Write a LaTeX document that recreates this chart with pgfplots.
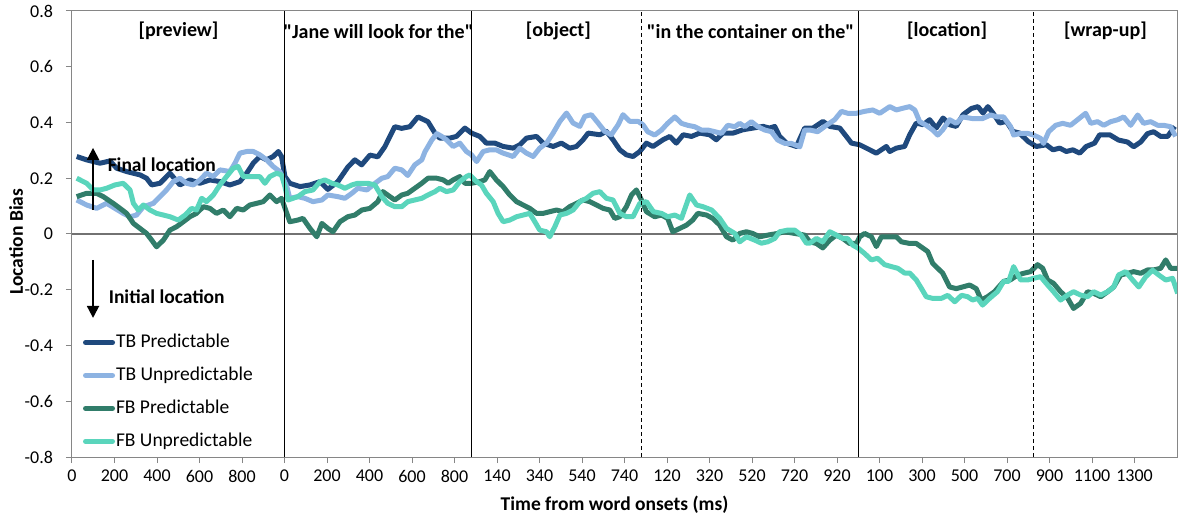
\documentclass[border=0pt]{standalone}
\usepackage{fontspec}
\setmainfont{Carlito}
\usepackage{pgfplots}
\pgfplotsset{compat=1.18}
\usetikzlibrary{arrows.meta}

\definecolor{tbp}{HTML}{1F497D}
\definecolor{tbu}{HTML}{8DB3E2}
\definecolor{fbp}{HTML}{317D6A}
\definecolor{fbu}{HTML}{5AD5BC}
\definecolor{axgray}{HTML}{868686}

\newcommand{\bigfont}{\fontsize{9.75pt}{11.7pt}\selectfont}

\begin{document}
\begin{tikzpicture}[font=\fontsize{9pt}{10.8pt}\selectfont]
\begin{axis}[
    name=ax,
    scale only axis,
    width=552.5pt, height=223pt,
    xmin=0, xmax=5200, ymin=-0.8, ymax=0.8,
    xtick={0,200,...,5000},
    xticklabels={0,200,400,600,800,0,200,400,600,800,140,340,540,740,120,320,520,720,920,100,300,500,700,900,1100,1300},
    ytick={-0.8,-0.6,-0.4,-0.2,0,0.2,0.4,0.6,0.8},
    yticklabels={-0.8,-0.6,-0.4,-0.2,0,0.2,0.4,0.6,0.8},
    xtick pos=lower, ytick pos=left,
    tick align=outside, major tick length=3pt,
    tick style={axgray, line width=0.5pt},
    axis line style={axgray, line width=0.5pt},
    yticklabel style={xshift=-3pt},
    xlabel={Time from word onsets (ms)},
    ylabel={Location Bias},
    x label style={at={(axis description cs:0.491,0)}, anchor=center, yshift=-24pt, font=\bigfont\bfseries},
    y label style={at={(axis description cs:0,0.483)}, anchor=center, yshift=28pt, font=\bigfont\bfseries},
    legend style={draw=none, fill=none, at={(axis cs:50,-0.344)}, anchor=north west,
        row sep=4.2pt, inner sep=0pt, nodes={inner xsep=0.5pt}, font=\bigfont},
    legend cell align=left,
    legend image code/.code={\draw[#1, line cap=round] (0pt,0pt) -- (13.5pt,0pt);},
    every axis plot/.append style={line width=2.5pt, line join=round},
  ]

  \draw[axgray!85!black, line width=0.7pt] (axis cs:0,0) -- (axis cs:5200,0);

  % TB Predictable
  \addplot[tbp] coordinates {
    (22,0.278)(69,0.266)(132,0.254)(179,0.262)(210,0.236)(257,0.224)(320,0.212)(351,0.200)
    (375,0.176)(414,0.182)(461,0.218)(508,0.176)(555,0.194)(602,0.182)(649,0.194)(696,0.188)
    (743,0.176)(790,0.188)(822,0.218)(853,0.254)(884,0.278)(916,0.266)(947,0.278)(971,0.296)
    (986,0.278)(1002,0.206)(1025,0.182)(1073,0.170)(1120,0.176)(1167,0.188)(1204,0.160)(1251,0.188)
    (1298,0.240)(1331,0.266)(1363,0.248)(1402,0.283)(1439,0.277)(1472,0.313)(1519,0.385)(1551,0.379)
    (1590,0.385)(1628,0.420)(1675,0.403)(1708,0.362)(1731,0.344)(1778,0.344)(1809,0.350)(1849,0.380)
    (1880,0.362)(1919,0.350)(1950,0.326)(1990,0.326)(2029,0.314)(2076,0.308)(2107,0.320)(2139,0.344)
    (2186,0.350)(2217,0.326)(2264,0.314)(2303,0.326)(2342,0.308)(2374,0.314)(2405,0.338)(2429,0.362)
    (2484,0.356)(2515,0.368)(2546,0.338)(2578,0.302)(2609,0.284)(2640,0.278)(2672,0.296)(2703,0.326)
    (2734,0.314)(2781,0.338)(2813,0.350)(2844,0.326)(2876,0.356)(2915,0.350)(2954,0.362)(3001,0.356)
    (3032,0.338)(3064,0.362)(3111,0.362)(3158,0.374)(3205,0.380)(3252,0.386)(3283,0.380)(3307,0.386)
    (3330,0.350)(3362,0.326)(3409,0.314)(3448,0.380)(3487,0.380)(3534,0.404)(3566,0.386)(3613,0.380)
    (3644,0.350)(3668,0.326)(3707,0.320)(3754,0.302)(3785,0.290)(3832,0.314)(3848,0.296)(3879,0.308)
    (3918,0.314)(3942,0.356)(3973,0.398)(4005,0.392)(4036,0.410)(4067,0.380)(4099,0.416)(4130,0.392)
    (4161,0.386)(4193,0.428)(4232,0.450)(4263,0.457)(4287,0.434)(4310,0.457)(4334,0.434)(4365,0.398)
    (4397,0.404)(4428,0.368)(4459,0.362)(4499,0.332)(4538,0.314)(4585,0.320)(4616,0.302)(4648,0.308)
    (4679,0.296)(4710,0.302)(4742,0.290)(4773,0.314)(4812,0.326)(4836,0.356)(4883,0.356)(4925,0.337)
    (4967,0.330)(4996,0.313)(5029,0.330)(5061,0.360)(5090,0.367)(5123,0.350)(5156,0.350)(5189,0.386)
  };
  \addlegendentry{TB Predictable}

  % TB Unpredictable
  \addplot[tbu] coordinates {
    (22,0.122)(69,0.104)(116,0.092)(163,0.110)(202,0.092)(241,0.074)(273,0.062)(304,0.068)
    (336,0.098)(383,0.110)(414,0.134)(445,0.158)(477,0.188)(508,0.200)(539,0.182)(571,0.176)
    (602,0.194)(633,0.218)(665,0.206)(696,0.230)(743,0.224)(767,0.254)(790,0.290)(822,0.296)
    (853,0.296)(884,0.284)(916,0.266)(947,0.242)(978,0.224)(1011,0.170)(1025,0.128)(1063,0.134)
    (1096,0.128)(1134,0.116)(1176,0.122)(1204,0.140)(1251,0.134)(1284,0.128)(1317,0.146)(1345,0.164)
    (1388,0.158)(1416,0.176)(1458,0.200)(1486,0.206)(1519,0.236)(1552,0.230)(1580,0.210)(1613,0.248)
    (1646,0.266)(1661,0.295)(1693,0.337)(1717,0.360)(1740,0.350)(1762,0.338)(1794,0.314)(1825,0.326)
    (1856,0.296)(1880,0.284)(1904,0.260)(1935,0.296)(1966,0.302)(1997,0.302)(2029,0.290)(2076,0.278)
    (2107,0.308)(2139,0.290)(2170,0.278)(2201,0.308)(2233,0.326)(2264,0.362)(2296,0.404)(2327,0.434)
    (2358,0.398)(2390,0.386)(2413,0.422)(2444,0.428)(2476,0.398)(2507,0.368)(2538,0.356)(2570,0.392)
    (2593,0.428)(2625,0.404)(2664,0.404)(2687,0.392)(2709,0.367)(2742,0.355)(2774,0.373)(2803,0.397)
    (2837,0.420)(2868,0.397)(2897,0.390)(2930,0.385)(2962,0.373)(2992,0.373)(3025,0.367)(3056,0.361)
    (3086,0.390)(3119,0.385)(3142,0.397)(3166,0.385)(3197,0.403)(3227,0.385)(3260,0.373)(3291,0.367)
    (3321,0.337)(3354,0.325)(3385,0.325)(3425,0.313)(3448,0.373)(3472,0.373)(3509,0.367)(3550,0.390)
    (3589,0.410)(3621,0.440)(3650,0.433)(3691,0.433)(3730,0.440)(3768,0.445)(3801,0.433)(3848,0.457)
    (3879,0.445)(3909,0.451)(3942,0.457)(3966,0.445)(3989,0.403)(4020,0.390)(4050,0.373)(4074,0.355)
    (4097,0.373)(4130,0.410)(4161,0.397)(4191,0.420)(4238,0.414)(4285,0.414)(4323,0.427)(4355,0.420)
    (4384,0.420)(4417,0.385)(4431,0.355)(4464,0.361)(4497,0.361)(4525,0.355)(4558,0.343)(4572,0.325)
    (4596,0.367)(4629,0.390)(4662,0.397)(4699,0.390)(4732,0.410)(4770,0.433)(4794,0.397)(4826,0.403)
    (4855,0.390)(4888,0.403)(4921,0.410)(4949,0.420)(4982,0.390)(5015,0.427)(5043,0.397)(5076,0.403)
    (5109,0.390)(5137,0.390)(5170,0.385)(5193,0.350)
  };
  \addlegendentry{TB Unpredictable}

  % FB Predictable
  \addplot[fbp] coordinates {
    (22,0.134)(69,0.146)(116,0.146)(147,0.134)(194,0.110)(226,0.092)(257,0.074)(289,0.038)
    (320,0.020)(351,0.002)(375,-0.022)(398,-0.046)(430,-0.022)(461,0.014)(492,0.026)(524,0.044)
    (555,0.062)(586,0.074)(618,0.098)(649,0.092)(680,0.074)(712,0.086)(743,0.062)(775,0.092)
    (806,0.086)(837,0.104)(869,0.110)(900,0.116)(931,0.140)(963,0.116)(986,0.128)(1011,0.074)
    (1025,0.044)(1063,0.050)(1087,0.056)(1120,0.020)(1152,-0.010)(1176,0.038)(1204,0.020)(1228,0.008)
    (1261,0.044)(1298,0.062)(1331,0.068)(1364,0.086)(1402,0.092)(1439,0.116)(1463,0.152)(1496,0.134)
    (1519,0.122)(1552,0.140)(1580,0.146)(1613,0.164)(1646,0.182)(1675,0.200)(1717,0.200)(1747,0.194)
    (1770,0.182)(1794,0.194)(1825,0.206)(1849,0.182)(1880,0.182)(1919,0.188)(1943,0.194)(1966,0.224)
    (1997,0.194)(2029,0.170)(2060,0.140)(2092,0.116)(2123,0.104)(2154,0.092)(2186,0.074)(2217,0.074)
    (2248,0.080)(2280,0.086)(2311,0.080)(2342,0.098)(2374,0.110)(2405,0.122)(2437,0.116)(2468,0.104)
    (2499,0.092)(2531,0.086)(2554,0.056)(2578,0.062)(2609,0.098)(2633,0.140)(2656,0.158)(2680,0.122)
    (2703,0.080)(2742,0.062)(2774,0.068)(2803,0.056)(2827,0.008)(2860,0.020)(2892,0.032)(2921,0.050)
    (2945,0.074)(2986,0.068)(3015,0.056)(3048,0.032)(3080,-0.010)(3110,-0.022)(3142,0.002)(3174,0.008)
    (3203,0.002)(3236,-0.010)(3274,-0.004)(3321,0.002)(3354,0.008)(3401,0.002)(3448,-0.004)(3472,-0.028)
    (3503,-0.034)(3533,-0.050)(3566,-0.022)(3597,-0.004)(3627,-0.016)(3659,-0.034)(3692,-0.034)(3707,-0.010)
    (3730,0.002)(3762,-0.010)(3785,-0.045)(3809,-0.010)(3848,-0.010)(3879,-0.010)(3903,-0.028)(3942,-0.034)
    (3973,-0.034)(4003,-0.050)(4027,-0.063)(4050,-0.105)(4074,-0.123)(4097,-0.140)(4130,-0.190)(4161,-0.196)
    (4191,-0.190)(4224,-0.183)(4255,-0.196)(4279,-0.237)(4308,-0.225)(4341,-0.207)(4384,-0.170)(4417,-0.164)
    (4450,-0.147)(4478,-0.141)(4511,-0.135)(4544,-0.110)(4568,-0.123)(4591,-0.165)(4619,-0.177)(4652,-0.207)
    (4685,-0.230)(4713,-0.267)(4746,-0.249)(4779,-0.207)(4808,-0.213)(4841,-0.225)(4874,-0.207)(4902,-0.190)
    (4935,-0.147)(4968,-0.141)(4996,-0.135)(5029,-0.141)(5061,-0.129)(5090,-0.129)(5123,-0.123)(5147,-0.093)
    (5170,-0.123)(5203,-0.123)
  };
  \addlegendentry{FB Predictable}

  % FB Unpredictable
  \addplot[fbu] coordinates {
    (22,0.200)(69,0.182)(100,0.158)(132,0.158)(163,0.164)(202,0.176)(241,0.182)(273,0.158)
    (289,0.110)(312,0.086)(336,0.104)(367,0.086)(398,0.074)(430,0.068)(461,0.062)(500,0.050)
    (532,0.068)(563,0.092)(586,0.086)(610,0.128)(633,0.116)(665,0.140)(696,0.176)(727,0.206)
    (759,0.236)(782,0.242)(806,0.206)(853,0.206)(884,0.206)(908,0.182)(931,0.206)(963,0.218)
    (986,0.212)(1002,0.170)(1016,0.122)(1063,0.134)(1096,0.152)(1134,0.158)(1167,0.188)(1190,0.194)
    (1223,0.182)(1251,0.176)(1284,0.164)(1317,0.176)(1345,0.182)(1392,0.182)(1425,0.176)(1458,0.134)
    (1486,0.110)(1519,0.098)(1552,0.098)(1580,0.116)(1613,0.122)(1646,0.128)(1675,0.140)(1708,0.152)
    (1731,0.164)(1762,0.152)(1794,0.158)(1825,0.188)(1856,0.206)(1872,0.212)(1903,0.188)(1927,0.176)
    (1950,0.146)(1982,0.116)(2005,0.074)(2029,0.044)(2060,0.050)(2092,0.062)(2123,0.068)(2154,0.074)
    (2178,0.044)(2201,0.014)(2233,0.008)(2248,-0.010)(2272,0.026)(2296,0.068)(2327,0.074)(2358,0.086)
    (2390,0.116)(2421,0.128)(2452,0.146)(2484,0.152)(2515,0.128)(2546,0.122)(2578,0.074)(2609,0.062)
    (2640,0.062)(2672,0.110)(2703,0.116)(2736,0.080)(2774,0.074)(2803,0.062)(2837,0.068)(2868,0.056)
    (2907,0.140)(2939,0.104)(2969,0.098)(3010,0.086)(3048,0.056)(3080,0.020)(3119,0.002)(3142,-0.028)
    (3174,-0.010)(3213,-0.022)(3244,-0.033)(3274,-0.028)(3307,-0.016)(3330,0.008)(3368,0.014)(3401,0.014)
    (3431,-0.004)(3456,-0.033)(3472,-0.033)(3503,-0.016)(3533,-0.028)(3566,0.008)(3597,-0.004)(3627,-0.016)
    (3650,-0.016)(3674,-0.040)(3698,-0.050)(3730,-0.070)(3762,-0.093)(3791,-0.087)(3824,-0.110)(3856,-0.117)
    (3886,-0.123)(3918,-0.140)(3942,-0.140)(3973,-0.165)(3997,-0.195)(4020,-0.225)(4050,-0.231)(4091,-0.231)
    (4121,-0.220)(4154,-0.243)(4186,-0.220)(4215,-0.225)(4238,-0.237)(4262,-0.231)(4285,-0.255)(4318,-0.231)
    (4355,-0.207)(4384,-0.170)(4408,-0.170)(4431,-0.117)(4464,-0.165)(4497,-0.165)(4525,-0.159)(4558,-0.153)
    (4591,-0.183)(4619,-0.207)(4652,-0.237)(4685,-0.219)(4713,-0.207)(4746,-0.219)(4779,-0.225)(4808,-0.207)
    (4841,-0.219)(4874,-0.207)(4902,-0.190)(4925,-0.147)(4958,-0.135)(4991,-0.165)(5020,-0.190)(5053,-0.153)
    (5085,-0.130)(5114,-0.147)(5147,-0.165)(5179,-0.159)(5203,-0.213)
  };
  \addlegendentry{FB Unpredictable}

  % segment boundaries
  \draw[black, line width=0.5pt] (axis cs:1000,-0.8) -- (axis cs:1000,0.8);
  \draw[black, line width=0.5pt] (axis cs:1880,-0.8) -- (axis cs:1880,0.8);
  \draw[black, line width=0.5pt, dash pattern=on 2pt off 1.5pt] (axis cs:2680,-0.8) -- (axis cs:2680,0.8);
  \draw[black, line width=0.5pt] (axis cs:3700,-0.8) -- (axis cs:3700,0.8);
  \draw[black, line width=0.5pt, dash pattern=on 2pt off 1.5pt] (axis cs:4525,-0.8) -- (axis cs:4525,0.8);

  % segment titles
  \node[font=\bfseries] at (axis cs:501,0.728) {[preview]};
  \node[font=\bfseries] at (axis cs:1442,0.728) {\textquotedbl Jane will look for the\textquotedbl};
  \node[font=\bfseries] at (axis cs:2289,0.728) {[object]};
  \node[font=\bfseries] at (axis cs:3193,0.728) {\textquotedbl in the container on the\textquotedbl};
  \node[font=\bfseries] at (axis cs:4118,0.728) {[location]};
  \node[font=\bfseries] at (axis cs:4863,0.728) {[wrap-up]};

  % direction arrows
  \draw[line width=1pt, -{Triangle[width=6pt,length=6pt]}] (axis cs:99,0.086) -- (axis cs:99,0.309);
  \node[anchor=west, font=\bigfont\bfseries] at (axis cs:135,0.248) {Final location};
  \draw[line width=1pt, -{Triangle[width=6pt,length=6pt]}] (axis cs:99,-0.093) -- (axis cs:99,-0.301);
  \node[anchor=west, font=\bigfont\bfseries] at (axis cs:140,-0.225) {Initial location};
\end{axis}
\pgfresetboundingbox
\path[use as bounding box] ([xshift=-36pt,yshift=-30.5pt]ax.south west) rectangle ([xshift=2pt,yshift=5.5pt]ax.north east);
\end{tikzpicture}
\end{document}
